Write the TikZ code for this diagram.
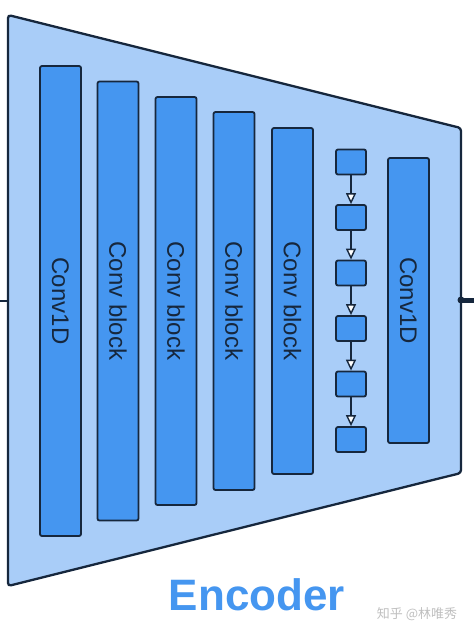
\documentclass[tikz,border=0pt]{standalone}
\usepackage{fontspec}
\setmainfont{Liberation Sans}
\newfontfamily\cjkfont{Noto Sans CJK SC}
\usetikzlibrary{arrows.meta}
\definecolor{encpale}{HTML}{A9CDF8}
\definecolor{encbar}{HTML}{4596F0}
\definecolor{encline}{HTML}{16273D}

\begin{document}
\begin{tikzpicture}[x=1pt,y=-1pt,
	bar/.style={draw=encline, line width=1.8pt, fill=encbar, rounded corners=2pt, minimum width=41pt, inner sep=0pt},
	resbox/.style={draw=encline, line width=1.8pt, fill=encbar, rounded corners=2pt, minimum width=30pt, minimum height=25pt, inner sep=0pt},
	barlabel/.style={rotate=-90, font=\fontsize{24}{24}\selectfont, text=encline},
	flow/.style={draw=encline, line width=1.5pt, -{Triangle[length=11pt,width=10pt,fill=white,line width=1.4pt]}}]
	\useasboundingbox (0,0) rectangle (474,634);
	% encoder body
	\coordinate (tl) at (8,15);
	\coordinate (tr) at (461,128);
	\coordinate (br) at (461,473);
	\coordinate (bl) at (8,586);
	\draw[draw=encline, line width=2.3pt, fill=encpale, rounded corners=3pt] (tl) -- (tr) -- (br) -- (bl) -- cycle;
	\coordinate (in) at (0,301);
	\coordinate (out) at (474,300);
	\draw[encline, line width=1.2pt] (in) -- (in -| tl);
	\fill[encline] (out -| tr) circle (3.5pt);
	\draw[encline, line width=5pt] (out -| tr) -- (out);

	\node[bar, minimum height=470pt] (conv1) at (60.5,301) {};
	\node[barlabel] (conv1-text) at (conv1) {Conv1D};
	\foreach \i/\x/\h in {1/118/439, 2/176/408, 3/234/378, 4/292.5/346} {
		\node[bar, minimum height=\h pt] (block\i) at (\x,301) {};
		\node[barlabel] (block\i-text) at (block\i) {Conv block};
	}
	% residual units
	\foreach \i in {1,...,6}
		\node[resbox] (res\i) at (351,{162+55.5*(\i-1)}) {};
	\foreach \i [evaluate=\i as \j using int(\i+1)] in {1,...,5}
		\draw[flow] (res\i) -- (res\j);
	\node[bar, minimum height=285pt] (conv2) at (408.5,300.5) {};
	\node[barlabel] (conv2-text) at (conv2) {Conv1D};

	\node[font=\bfseries\fontsize{44}{44}\selectfont, text=encbar] (title) at (257,595) {Encoder};
	\node[font=\cjkfont\fontsize{13}{13}\selectfont, text=gray!50] (mark) at (417,614) {知乎 @林唯秀};
\end{tikzpicture}
\end{document}
